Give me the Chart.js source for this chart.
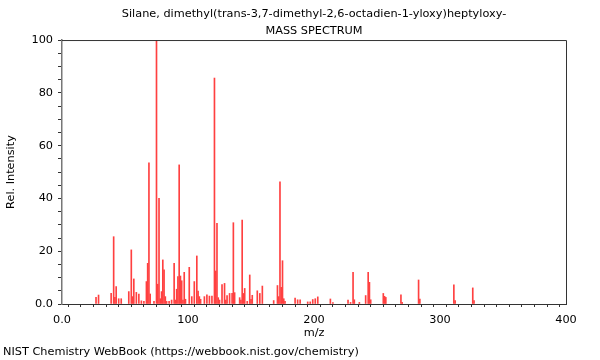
<!DOCTYPE html>
<html>
<head>
<meta charset="utf-8">
<script src="https://cdn.jsdelivr.net/npm/chart.js@4"></script>
<style>
  html, body { margin: 0; padding: 0; background: #fff; }
  canvas { display: block; }
</style>
</head>
<body>
<canvas id="spectrum" width="600" height="360"></canvas>
<script>
// Данные спектра (m/z и относительная интенсивность)
const massToCharge = [
  27, 29, 39, 41, 42, 43, 45, 47, 53, 55, 56, 57, 59, 61, 63, 65, 67, 68, 69, 70,
  73, 75, 76, 77, 78, 79, 80, 81, 82, 83, 85, 87, 89, 90, 91, 92, 93, 94, 95, 96,
  97, 98, 101, 103, 105, 107, 108, 109, 110, 113, 115, 117, 119, 121, 122, 123, 124, 125, 127, 129,
  130, 131, 133, 135, 136, 137, 141, 142, 143, 144, 145, 147, 149, 150, 151, 155, 157, 159, 168, 171,
  172, 173, 174, 175, 176, 177, 185, 187, 189, 195, 197, 199, 201, 203, 213, 215, 227, 229, 231, 232,
  236, 241, 243, 244, 245, 255, 256, 257, 269, 270, 283, 284, 311, 312, 326, 327
];
const relIntensity = [
  2.5, 3.4, 4, 25.5, 2.5, 6.6, 2, 2, 4.7, 20.5, 2.8, 9.5, 4.4, 3.8, 1.2, 1, 8.5, 15.4, 53.5, 3.8,
  1, 100, 7.5, 40, 2, 4.7, 16.7, 12.9, 2.8, 1, 1, 1.5, 15.4, 1.5, 5.6, 10.4, 52.7, 10.6, 8.8, 1.5,
  12, 1.8, 13.9, 2.8, 8.5, 18.2, 4.9, 2.8, 1.8, 2.8, 3.5, 3, 3, 85.6, 12.5, 30.6, 2.4, 1.5, 7.4, 7.8,
  1.5, 3.2, 4, 4, 30.8, 4.3, 2.4, 1.5, 31.8, 4, 5.9, 1, 11, 1.8, 3.3, 5, 4, 6.8, 1.3, 7,
  2.8, 46.3, 6.3, 16.4, 2, 1, 2.2, 1.6, 1.6, 0.8, 0.8, 1.7, 2, 2.7, 1.9, 0.5, 1.5, 0.6, 12, 1.6,
  0.6, 3.2, 12, 8.2, 1.6, 4, 2.9, 2.5, 3.5, 0.6, 9.1, 1.9, 7.3, 1.3, 6.1, 1.3
];

const compoundName = 'Silane, dimethyl(trans-3,7-dimethyl-2,6-octadien-1-yloxy)heptyloxy-';
const footerText = 'NIST Chemistry WebBook (https://webbook.nist.gov/chemistry)';

const fontFamily = '"DejaVu Sans", sans-serif';
const fontSize = 11.3;

// Рамка сверху и справа + подпись внизу
const framePlugin = {
  id: 'frame',
  afterDraw(chart) {
    const { ctx, chartArea } = chart;
    ctx.save();
    ctx.strokeStyle = '#333';
    ctx.lineWidth = 1;
    ctx.beginPath();
    ctx.moveTo(chartArea.left, chartArea.top + 0.5);
    ctx.lineTo(chartArea.right + 0.5, chartArea.top + 0.5);
    ctx.lineTo(chartArea.right + 0.5, chartArea.bottom);
    ctx.stroke();

    ctx.fillStyle = '#000';
    ctx.font = fontSize + 'px ' + fontFamily;
    ctx.textBaseline = 'middle';
    ctx.textAlign = 'left';
    ctx.fillText(footerText, 3, 352);
    ctx.restore();
  }
};

const points = massToCharge.map((mz, i) => ({ x: mz, y: relIntensity[i] }));

new Chart(document.getElementById('spectrum'), {
  type: 'bar',
  data: {
    datasets: [{
      data: points,
      backgroundColor: 'rgb(255, 64, 64)',
      borderWidth: 0,
      barThickness: 1,
      grouped: false
    }]
  },
  options: {
    responsive: false,
    devicePixelRatio: 1,
    animation: false,
    layout: { padding: { left: 0, top: 0, right: 34, bottom: 0 } },
    plugins: {
      legend: { display: false },
      tooltip: { enabled: false },
      title: {
        display: true,
        fullSize: false,
        text: compoundName,
        color: '#000',
        font: { family: fontFamily, size: fontSize, weight: 'normal', lineHeight: 1.17 },
        padding: { top: 7, bottom: 2 }
      },
      subtitle: {
        display: true,
        fullSize: false,
        text: 'MASS SPECTRUM',
        color: '#000',
        font: { family: fontFamily, size: fontSize, weight: 'normal', lineHeight: 1.17 },
        padding: { top: 2, bottom: 2.6 }
      }
    },
    scales: {
      x: {
        type: 'linear',
        min: 0,
        max: 400,
        offset: false,
        afterFit(scale) { scale.height = 56; },
        grid: { drawOnChartArea: false, tickLength: 3, color: '#333' },
        border: { color: '#333' },
        ticks: {
          stepSize: 10,
          autoSkip: false,
          maxRotation: 0,
          padding: 6,
          color: '#000',
          font: { family: fontFamily, size: fontSize },
          callback: v => (v % 100 === 0 ? (v === 0 ? '0.0' : String(v)) : '')
        },
        title: {
          display: true,
          text: 'm/z',
          color: '#000',
          font: { family: fontFamily, size: fontSize },
          padding: { top: 0, bottom: 20 }
        }
      },
      y: {
        min: 0,
        max: 100,
        afterFit(scale) { scale.width = 62; },
        grid: { drawOnChartArea: false, tickLength: 4, color: '#333' },
        border: { color: '#777', width: 1.5 },
        ticks: {
          stepSize: 5,
          autoSkip: false,
          padding: 5,
          color: '#000',
          font: { family: fontFamily, size: fontSize },
          callback: v => (v % 20 === 0 ? (v === 0 ? '0.0' : String(v)) : '')
        },
        title: {
          display: true,
          text: 'Rel. Intensity',
          color: '#000',
          font: { family: fontFamily, size: fontSize },
          padding: { top: 4, bottom: 0 }
        }
      }
    }
  },
  plugins: [framePlugin]
});
</script>
</body>
</html>
